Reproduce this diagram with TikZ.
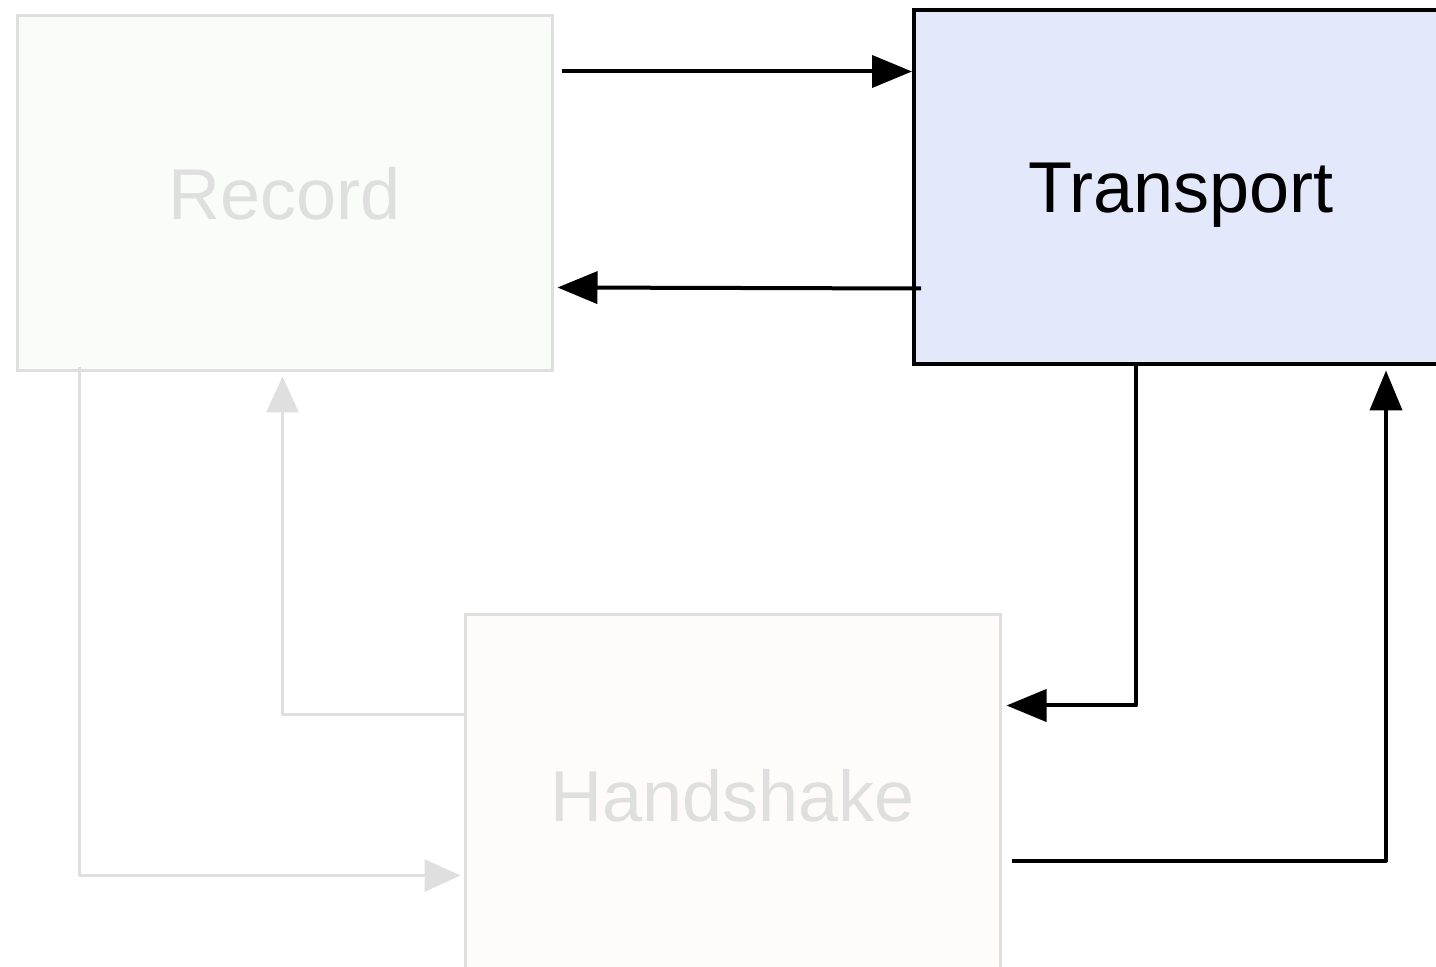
\documentclass[tikz,border=0pt]{standalone}
\usepackage{fontspec}
\setmainfont{Liberation Sans}
\usetikzlibrary{calc,arrows.meta}
\definecolor{lgray}{HTML}{DFDFDF}
\definecolor{trfill}{HTML}{E3E8FB}
\definecolor{recfill}{HTML}{FAFCFA}
\definecolor{hsfill}{HTML}{FFFBFB}
\tikzset{
  box/.style={rectangle, inner sep=0pt, text depth=0pt, font=\fontsize{36}{40}\selectfont},
  fadedbox/.style={box, draw=lgray, line width=1.5pt, text=lgray},
  arr/.style={draw=black, line width=2pt, line join=round, -{Triangle[length=20pt,width=16pt]}},
  garr/.style={draw=lgray, line width=1.5pt, line join=round, -{Triangle[length=18pt,width=16pt]}},
}
\begin{document}
\begin{tikzpicture}[x=0.5pt,y=-0.5pt]
\useasboundingbox (0,0) rectangle (1436,967);
\clip (0,0) rectangle (1436,967);
\node[fadedbox, fill=recfill, minimum width=267.5pt, minimum height=177.5pt] (rec) at (284.5,193.5) {Record};
\node[box, draw=black, line width=2pt, fill=trfill, minimum width=267pt, minimum height=177pt] (tr) at (1181,187.5) {Transport};
\node[fadedbox, fill=hsfill, minimum width=267.5pt, minimum height=180pt] (hs) at (732.5,795) {Handshake};
% black connectors
\draw[arr] ($(rec.north east)+(8,57)$) -- ($(tr.north west)+(0,63)$);
\draw[arr] ($(tr.south west)+(9,-78)$) -- ($(rec.south east)+(4,-85)$);
\draw[arr] ($(tr.south west)+(224,-2)$) |- ($(hs.north east)+(5,92)$);
\draw[arr] ($(hs.north east)+(10,247)$) -| ($(tr.south west)+(474,4)$);
% gray connectors
\draw[garr] ($(hs.north west)+(3,101)$) -| ($(rec.south west)+(267,4)$);
\draw[garr] ($(rec.south west)+(64,-5)$) |- ($(hs.north west)+(-3,262)$);
\end{tikzpicture}
\end{document}
